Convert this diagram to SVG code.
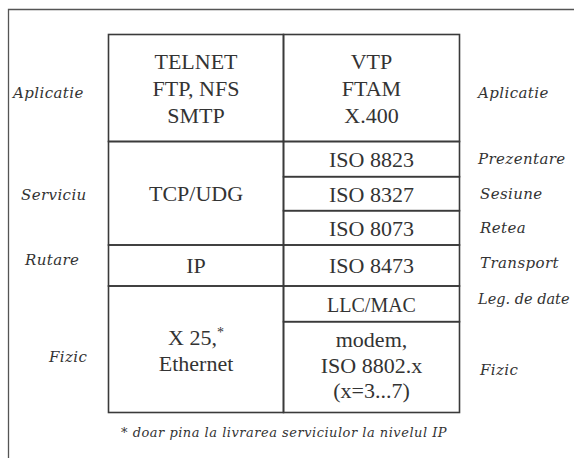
<svg xmlns="http://www.w3.org/2000/svg" width="574" height="458" viewBox="0 0 574 458">
<style>
.cell{fill:none;stroke:#3a3a3a;stroke-width:1.6}
.frame{fill:none;stroke:#555;stroke-width:1.3}
.t{font-family:"Liberation Serif","Times New Roman",serif;font-size:22px;fill:#333;text-anchor:middle}
.ts{font-size:20px}
.lab{font-family:"DejaVu Serif","Liberation Serif",serif;font-style:italic;font-size:15px;letter-spacing:0.4px;fill:#333}
.note{font-family:"DejaVu Serif","Liberation Serif",serif;font-style:italic;font-size:13px;letter-spacing:0.5px;fill:#333}
</style>
<rect width="574" height="458" fill="#fff"/>
<path class="frame" d="M8.5,460 V9.5 H576"/>
<g id="telnet"><rect class="cell" x="108.5" y="34.5" width="175" height="107"/>
<text class="t" x="196" y="69">TELNET</text><text class="t" x="196" y="96">FTP, NFS</text><text class="t" x="196" y="123">SMTP</text></g>
<g id="vtp"><rect class="cell" x="283.5" y="34.5" width="176" height="107"/>
<text class="t" x="371.5" y="69">VTP</text><text class="t" x="371.5" y="96">FTAM</text><text class="t" x="371.5" y="123">X.400</text></g>
<g id="tcp"><rect class="cell" x="108.5" y="141.5" width="175" height="103.5"/>
<text class="t" x="196" y="201">TCP/UDG</text></g>
<g id="iso8823"><rect class="cell" x="283.5" y="141.5" width="176" height="35.2"/><text class="t" x="371.5" y="166.7">ISO 8823</text></g>
<g id="iso8327"><rect class="cell" x="283.5" y="176.7" width="176" height="34"/><text class="t" x="371.5" y="201.5">ISO 8327</text></g>
<g id="iso8073"><rect class="cell" x="283.5" y="210.7" width="176" height="34.3"/><text class="t" x="371.5" y="236">ISO 8073</text></g>
<g id="ip"><rect class="cell" x="108.5" y="245" width="175" height="41"/><text class="t" x="196" y="273">IP</text></g>
<g id="iso8473"><rect class="cell" x="283.5" y="245" width="176" height="41"/><text class="t" x="371.5" y="273">ISO 8473</text></g>
<g id="x25"><rect class="cell" x="108.5" y="286" width="175" height="126.5"/>
<text class="t" x="196" y="345">X 25,<tspan font-size="14" dy="-8">*</tspan></text><text class="t" x="196" y="370.5">Ethernet</text></g>
<g id="llc"><rect class="cell" x="283.5" y="286" width="176" height="35.7"/><text class="t ts" x="371.5" y="311.5">LLC/MAC</text></g>
<g id="modem"><rect class="cell" x="283.5" y="321.7" width="176" height="90.8"/>
<text class="t" x="371.5" y="347">modem,</text><text class="t" x="371.5" y="373">ISO 8802.x</text><text class="t" x="371.5" y="398">(x=3...7)</text></g>
<g id="left-labels">
<text class="lab" x="13" y="98">Aplicatie</text>
<text class="lab" x="21" y="200">Serviciu</text>
<text class="lab" x="25" y="265">Rutare</text>
<text class="lab" x="49" y="362">Fizic</text>
</g>
<g id="right-labels">
<text class="lab" x="478" y="98">Aplicatie</text>
<text class="lab" x="478" y="164">Prezentare</text>
<text class="lab" x="480" y="199">Sesiune</text>
<text class="lab" x="480" y="233">Retea</text>
<text class="lab" x="480" y="268">Transport</text>
<text class="lab" x="478" y="304" style="letter-spacing:0;font-size:14.5px">Leg. de date</text>
<text class="lab" x="480" y="375">Fizic</text>
</g>
<g id="footnote"><text class="note" x="121" y="436.5">*  doar pina la livrarea serviciulor la nivelul IP</text></g>
</svg>
